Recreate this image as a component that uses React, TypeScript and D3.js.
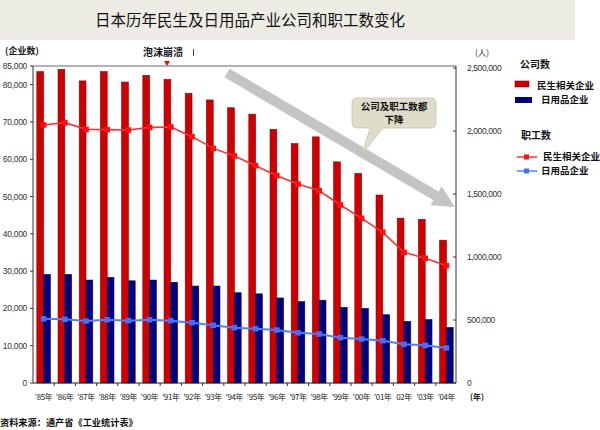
import React from "react";
import * as d3 from "d3";

const years = ["'85年","'86年","'87年","'88年","'89年","'90年","'91年","'92年","'93年","'94年","'95年","'96年","'97年","'98年","'99年","'00年","'01年","02年","'03年","'04年"];
const companiesMinsheng = [83500,84100,81000,83500,80700,82500,81400,77700,75900,73800,72100,68000,64200,66000,59300,56200,50400,44200,43900,38300];
const companiesDaily = [29100,29100,27600,28300,27400,27600,27000,26000,26000,24200,23900,22800,21800,22200,20300,20000,18300,16500,17000,14900];
const workersMinsheng = [2048000,2066000,2013000,2011000,2008000,2029000,2032000,1955000,1862000,1802000,1725000,1645000,1579000,1526000,1413000,1307000,1196000,1037000,990000,931000];
const workersDaily = [510000,505000,492000,502000,495000,502000,495000,479000,458000,439000,431000,421000,399000,389000,360000,349000,336000,307000,299000,278000];
const leftTicks = [0,10000,20000,30000,40000,50000,60000,70000,80000,85000];
const rightTicks = [0,500000,1000000,1500000,2000000,2500000];

const W = 600, H = 430;
const L = 33, R = 456, T = 66, B = 383;
const cjk = "'Noto Sans CJK SC', 'Noto Sans', sans-serif";
const num = "'Liberation Sans', Arial, sans-serif";

export default function App() {
  const x0 = d3.scaleBand<string>().domain(years).range([L, 457]).paddingInner(0.36).paddingOuter(0.18);
  const x1 = d3.scaleBand<string>().domain(["a", "b"]).range([0, x0.bandwidth()]);
  const yL = d3.scaleLinear().domain([0, 85000]).range([B, T]);
  const yR = d3.scaleLinear().domain([0, 2500000]).range([B, 68]);
  const cx = (i: number) => (x0(years[i]) as number) + x0.bandwidth() / 2;
  const lineR = d3.line<number>().x((_, i) => cx(i)).y((d) => yR(d));
  const fmt = d3.format(",");
  const step = x0.step();

  // arrow geometry
  const sx = 227, sy = 73, tx = 455, ty = 207;
  const len = Math.hypot(tx - sx, ty - sy);
  const ux = (tx - sx) / len, uy = (ty - sy) / len;
  const px = -uy, py = ux;
  const hl = 22, hw = 11, sw = 5;
  const bx = tx - ux * hl, by = ty - uy * hl;
  const arrow = `M${sx + px * sw},${sy + py * sw} L${bx + px * sw},${by + py * sw} L${bx + px * hw},${by + py * hw} L${tx},${ty} L${bx - px * hw},${by - py * hw} L${bx - px * sw},${by - py * sw} L${sx - px * sw},${sy - py * sw} Z`;

  const cb = { x: 352, y: 98, w: 84, h: 30, r: 5 };
  const callout = `M${cb.x + cb.r},${cb.y} H${cb.x + cb.w - cb.r} Q${cb.x + cb.w},${cb.y} ${cb.x + cb.w},${cb.y + cb.r} V${cb.y + cb.h - cb.r} Q${cb.x + cb.w},${cb.y + cb.h} ${cb.x + cb.w - cb.r},${cb.y + cb.h} H383 L362,154 L370,${cb.y + cb.h} H${cb.x + cb.r} Q${cb.x},${cb.y + cb.h} ${cb.x},${cb.y + cb.h - cb.r} V${cb.y + cb.r} Q${cb.x},${cb.y} ${cb.x + cb.r},${cb.y} Z`;

  return (
    <svg width={W} height={H} style={{ position: "absolute", left: 0, top: 0, display: "block", background: "#fff" }}>
      <rect x={0} y={0} width={575} height={40} fill="#ecebe4" />
      <text x={250} y={26} textAnchor="middle" fontFamily={cjk} fontSize={15.5} fill="#111">日本历年民生及日用品产业公司和职工数变化</text>

      {/* frame */}
      <line x1={L} x2={R} y1={T} y2={T} stroke="#666" strokeWidth={1} />

      {/* bars */}
      {years.map((y, i) => (
        <g key={y} transform={`translate(${x0(y)},0)`}>
          <rect x={x1("a")} y={yL(companiesMinsheng[i])} width={x1.bandwidth()} height={B - yL(companiesMinsheng[i])} fill="#d00000" stroke="#8a0000" strokeWidth={0.6} />
          <rect x={x1("b")} y={yL(companiesDaily[i])} width={x1.bandwidth()} height={B - yL(companiesDaily[i])} fill="#00007e" stroke="#000060" strokeWidth={0.6} />
        </g>
      ))}

      {/* arrow and callout */}
      <path d={arrow} fill="#c4c4c4" />
      <path d={callout} fill="#dfdcc9" stroke="#c8c5b2" strokeWidth={0.8} />
      <text x={394} y={110} textAnchor="middle" fontFamily={cjk} fontSize={9.5} fontWeight="bold" fill="#111">公司及职工数都</text>
      <text x={394} y={123} textAnchor="middle" fontFamily={cjk} fontSize={9.5} fontWeight="bold" fill="#111">下降</text>

      {/* lines */}
      <path d={lineR(workersMinsheng) as string} fill="none" stroke="#ff3030" strokeWidth={1.6} />
      {workersMinsheng.map((v, i) => (
        <rect key={"rm" + i} x={cx(i) - 2.8} y={yR(v) - 2.8} width={5.6} height={5.6} fill="#ff1010" />
      ))}
      <path d={lineR(workersDaily) as string} fill="none" stroke="#4d7fff" strokeWidth={2} />
      {workersDaily.map((v, i) => (
        <rect key={"bm" + i} x={cx(i) - 2.8} y={yR(v) - 2.8} width={5.6} height={5.6} fill="#4070ff" />
      ))}

      {/* axes */}
      <line x1={L} x2={L} y1={T} y2={B} stroke="#333" />
      <line x1={R} x2={R} y1={T} y2={B} stroke="#333" />
      <line x1={L} x2={R} y1={B} y2={B} stroke="#222" />
      {leftTicks.map((t) => (
        <g key={"l" + t}>
          <line x1={L - 3} x2={L} y1={yL(t)} y2={yL(t)} stroke="#333" />
          <text x={27} y={yL(t) + 3} textAnchor="end" fontFamily={num} fontSize={8.5} letterSpacing={-0.3} fill="#333">{fmt(t)}</text>
        </g>
      ))}
      {rightTicks.map((t) => (
        <g key={"r" + t}>
          <line x1={R - 3} x2={R} y1={yR(t)} y2={yR(t)} stroke="#333" />
          <text x={467} y={yR(t) + 3} fontFamily={num} fontSize={8.5} letterSpacing={-0.4} fill="#333">{fmt(t)}</text>
        </g>
      ))}
      {years.map((y, i) => (
        <g key={"x" + y}>
          {i > 0 && <line x1={L + step * i} x2={L + step * i} y1={B} y2={B + 3} stroke="#333" />}
          <text x={cx(i)} y={400} textAnchor="middle" fontFamily={cjk} fontSize={8} letterSpacing={-0.4} fill="#222">{y}</text>
        </g>
      ))}
      <text x={470} y={400} fontFamily={cjk} fontSize={8} fontWeight="bold" fill="#222">(年)</text>

      {/* axis titles & annotation */}
      <text x={5} y={54} fontFamily={cjk} fontSize={9} fontWeight="bold" fill="#222">(企业数)</text>
      <text x={475} y={56} fontFamily={cjk} fontSize={8.5} fill="#333">(人)</text>
      <text x={143} y={56} fontFamily={cjk} fontSize={10} fontWeight="bold" fill="#111">泡沫崩溃</text>
      <line x1={193.5} x2={193.5} y1={49} y2={56} stroke="#444" strokeWidth={1} />
      <path d="M164,61 L170,61 L167,66 Z" fill="#ff0000" />

      {/* legend */}
      <text x={520} y={68} fontFamily={cjk} fontSize={10} fontWeight="bold" fill="#111">公司数</text>
      <rect x={515} y={81} width={14} height={6} fill="#d00000" stroke="#8a0000" strokeWidth={0.6} />
      <text x={537} y={89} fontFamily={cjk} fontSize={9.5} fontWeight="bold" fill="#111">民生相关企业</text>
      <rect x={515} y={97} width={17} height={6} fill="#00007e" />
      <text x={541} y={103} fontFamily={cjk} fontSize={9.5} fontWeight="bold" fill="#111">日用品企业</text>
      <text x={521} y={139} fontFamily={cjk} fontSize={10} fontWeight="bold" fill="#111">职工数</text>
      <line x1={517} x2={537} y1={157} y2={157} stroke="#ff3030" strokeWidth={1.5} />
      <rect x={524} y={154.5} width={5} height={5} fill="#ff1010" />
      <text x={543} y={160} fontFamily={cjk} fontSize={9.5} fontWeight="bold" fill="#111">民生相关企业</text>
      <line x1={517} x2={537} y1={171} y2={171} stroke="#4d7fff" strokeWidth={1.5} />
      <rect x={524} y={168.5} width={5} height={5} fill="#4070ff" />
      <text x={541} y={174} fontFamily={cjk} fontSize={9.5} fontWeight="bold" fill="#111">日用品企业</text>

      <text x={0} y={426} fontFamily={cjk} fontSize={9.2} fontWeight="bold" fill="#111">资料来源：通产省《工业统计表》</text>
    </svg>
  );
}
